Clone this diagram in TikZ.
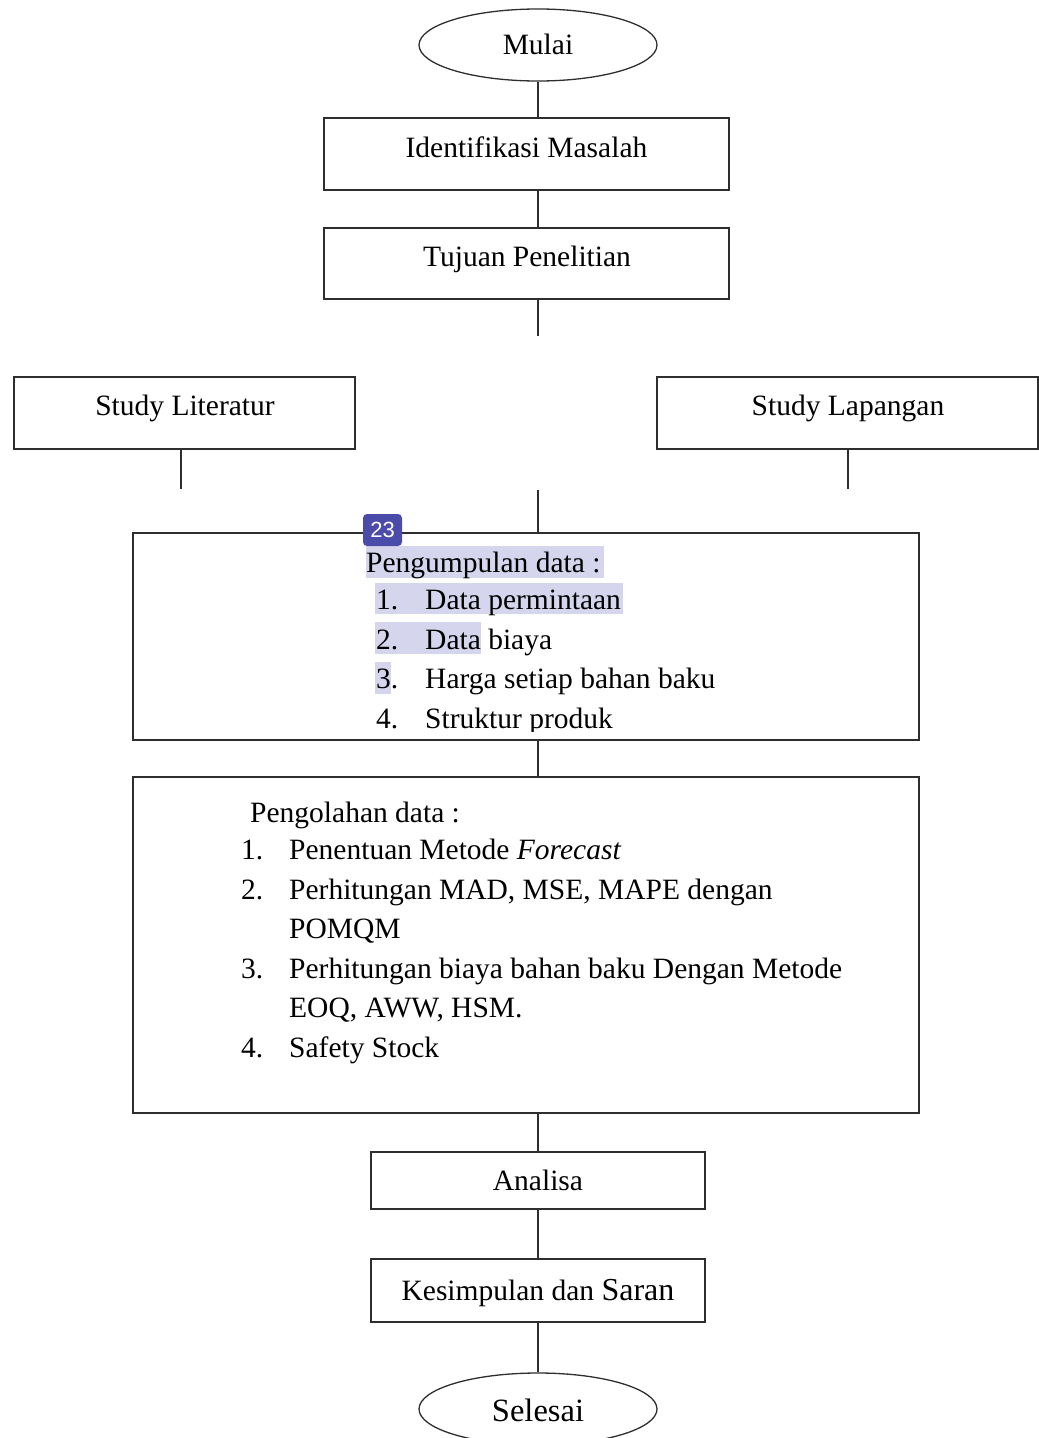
\documentclass[tikz,border=0pt]{standalone}
\usepackage{fontspec}
\setmainfont{Liberation Serif}
\newfontfamily\badgefont{Liberation Sans}
\usetikzlibrary{shapes.geometric}
\definecolor{ln}{HTML}{2E2E2E}
\definecolor{hl}{HTML}{D5D5EE}
\definecolor{badge}{HTML}{4B4BAA}
\begin{document}
\begin{tikzpicture}[x=1pt,y=-1pt,
  box/.style={draw=ln,line width=1.5pt,rectangle,inner sep=0pt},
  oval/.style={draw=ln,line width=1.3pt,ellipse,inner sep=0pt},
  txt/.style={inner sep=0pt,anchor=base,font=\fontsize{29.5}{36}\selectfont},
  ltxt/.style={txt,anchor=base west},
  conn/.style={draw=ln,line width=1.5pt},
  hlbox/.style={fill=hl}]
\useasboundingbox (0,0) rectangle (1039,1438);
\clip (0,0) rectangle (1039,1438);

% shapes
\node[oval,minimum width=238,minimum height=72] (mulai) at (538,45) {};
\node[txt] (tmulai) at (538,54) {Mulai};
\node[box,minimum width=405,minimum height=72] (idm) at (526.5,154) {};
\node[txt] (tidm) at (526.5,157) {Identifikasi Masalah};
\node[box,minimum width=405,minimum height=71] (tuj) at (526.5,263.5) {};
\node[txt] (ttuj) at (527,266) {Tujuan Penelitian};
\coordinate (tujend) at (538,336);
\node[box,minimum width=341,minimum height=72] (sl) at (184.5,413) {};
\node[txt] (tsl) at (185,415) {Study Literatur};
\coordinate (slend) at (181,489);
\node[box,minimum width=381,minimum height=72] (sp) at (847.5,413) {};
\node[txt] (tsp) at (848,415) {Study Lapangan};
\coordinate (spend) at (848,489);
\coordinate (pgstart) at (538,490);
\node[box,minimum width=786,minimum height=207] (pg) at (526,636.5) {};
\node[box,minimum width=786,minimum height=336] (po) at (526,945) {};
\node[box,minimum width=334,minimum height=57] (an) at (538,1180.5) {};
\node[txt] (tan) at (538,1190) {Analisa};
\node[box,minimum width=334,minimum height=63] (ks) at (538,1290.5) {};
\node[txt] (tks) at (538,1300) {Kesimpulan dan {\fontsize{32}{36}\selectfont Saran}};
\node[oval,minimum width=238,minimum height=72] (sel) at (538,1409) {};
\node[txt,font=\fontsize{32.5}{36}\selectfont] (tsel) at (538,1421) {Selesai};

% connectors
\draw[conn] (mulai.south) -- (mulai.south |- idm.north);
\draw[conn] (idm.south -| mulai) -- (tuj.north -| mulai);
\draw[conn] (tuj.south -| mulai) -- (tujend);
\draw[conn] (sl.south -| slend) -- (slend);
\draw[conn] (sp.south -| spend) -- (spend);
\draw[conn] (pgstart) -- (pgstart |- pg.north);
\draw[conn] (pg.south -| mulai) -- (po.north -| mulai);
\draw[conn] (po.south -| mulai) -- (an.north);
\draw[conn] (an.south) -- (ks.north);
\draw[conn] (ks.south) -- (sel.north);

% highlights
\fill[hlbox] (366,546) rectangle (604,578);
\fill[hlbox] (375,583) rectangle (623,614);
\fill[hlbox] (375,622) rectangle (481,654);
\fill[hlbox] (375,662) rectangle (391,694);

% Pengumpulan data
\node[ltxt] (pg0) at (366,572) {Pengumpulan data :};
\node[ltxt] (pg1n) at (376,609) {1.};
\node[ltxt] (pg1) at (425,609) {Data permintaan};
\node[ltxt] (pg2n) at (376,649) {2.};
\node[ltxt] (pg2) at (425,649) {Data biaya};
\node[ltxt] (pg3n) at (376,688) {3.};
\node[ltxt] (pg3) at (425,688) {Harga setiap bahan baku};
\begin{scope}
\clip (0,0) rectangle (1039,731);
\node[ltxt] (pg4n) at (376,728) {4.};
\node[ltxt] (pg4) at (425,728) {Struktur produk};
\end{scope}

% Pengolahan data
\node[ltxt] (po0) at (250,822) {Pengolahan data :};
\node[ltxt] (po1n) at (241,859) {1.};
\node[ltxt] (po1) at (289,859) {Penentuan Metode \textit{Forecast}};
\node[ltxt] (po2n) at (241,899) {2.};
\node[ltxt] (po2) at (289,899) {Perhitungan MAD, MSE, MAPE dengan};
\node[ltxt] (po2b) at (289,938) {POMQM};
\node[ltxt] (po3n) at (241,978) {3.};
\node[ltxt] (po3) at (289,978) {Perhitungan biaya bahan baku Dengan Metode};
\node[ltxt] (po3b) at (289,1017) {EOQ, AWW, HSM.};
\node[ltxt] (po4n) at (241,1057) {4.};
\node[ltxt] (po4) at (289,1057) {Safety Stock};

% badge
\node[fill=badge,rounded corners=4pt,text=white,inner sep=0pt,minimum width=39,minimum height=32,font=\fontsize{22}{22}\badgefont] (badge) at (382.5,530) {23};
\end{tikzpicture}
\end{document}
